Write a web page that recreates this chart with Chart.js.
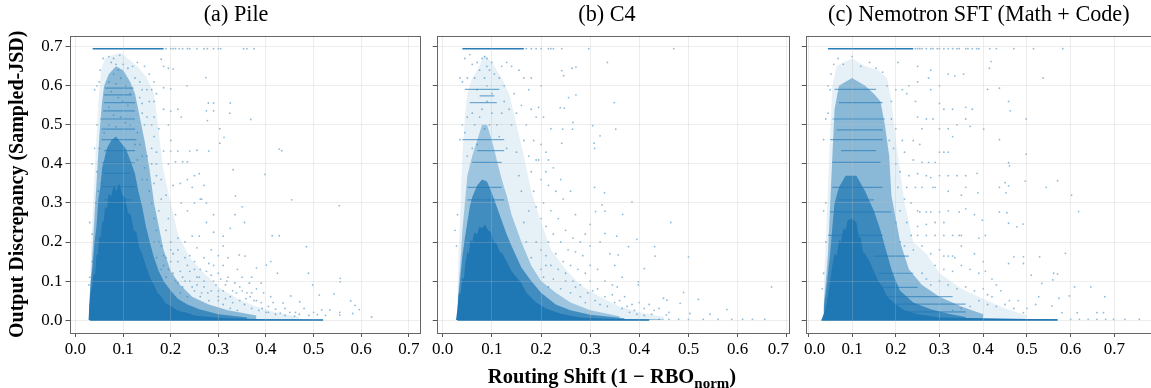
<!DOCTYPE html>
<html>
<head>
<meta charset="utf-8">
<script src="https://cdn.jsdelivr.net/npm/chart.js@4"></script>
<style>
  html, body { margin: 0; background: #fff; overflow: hidden; }
  canvas { position: absolute; top: 0; }
  #xlabel { position: absolute; left: 412px; width: 400px; top: 366px; text-align: center;
    font: bold 20.5px "Liberation Serif"; color: #000; white-space: nowrap; line-height: 20px; }
  #xlabel sub { font-size: 15px; line-height: 0; }
</style>
</head>
<body>
<canvas id="pile" style="left:0"></canvas>
<canvas id="c4" style="left:430px"></canvas>
<canvas id="nemo" style="left:785px"></canvas>
<div id="xlabel">Routing Shift (1 − RBO<sub>norm</sub>)</div>
<script>
const xTicks = [0, 0.1, 0.2, 0.3, 0.4, 0.5, 0.6, 0.7];
const yTicks = [0, 0.1, 0.2, 0.3, 0.4, 0.5, 0.6, 0.7];
const BLUE = '31,119,180';

// (a) Pile: density bands, darkest first
const pileCore = [[.027,0],[.029,.03],[.032,.07],[.035,.085],[.038,.12],[.041,.115],[.044,.165],[.047,.17],[.05,.215],[.053,.21],[.056,.255],[.059,.25],[.062,.29],[.066,.285],[.07,.325],[.075,.315],[.08,.345],[.086,.33],[.092,.35],[.098,.32],[.104,.315],[.11,.275],[.116,.27],[.122,.23],[.128,.225],[.134,.185],[.14,.17],[.146,.145],[.152,.125],[.158,.105],[.165,.09],[.172,.07],[.18,.06],[.19,.042],[.2,.037],[.215,.024],[.23,.02],[.25,.012],[.28,.008],[.32,.005],[.4,.002],[.52,.001]];
const pileMid = [[.028,.03],[.032,.1],[.036,.14],[.04,.2],[.044,.24],[.048,.31],[.052,.34],[.056,.39],[.06,.41],[.066,.44],[.075,.46],[.085,.47],[.095,.455],[.105,.44],[.115,.41],[.125,.375],[.132,.33],[.14,.29],[.148,.24],[.156,.2],[.165,.16],[.175,.125],[.185,.1],[.2,.075],[.215,.055],[.235,.04],[.26,.028],[.3,.015],[.36,.007]];
const pileUpper = [[.03,.05],[.034,.14],[.04,.27],[.045,.37],[.05,.47],[.055,.55],[.06,.6],[.07,.63],[.085,.65],[.1,.64],[.115,.61],[.125,.58],[.135,.52],[.145,.46],[.155,.39],[.165,.3],[.175,.24],[.185,.18],[.2,.125],[.22,.09],[.245,.06],[.28,.04],[.32,.025],[.38,.012]];
const pileOuter = [[.03,.1],[.036,.27],[.042,.42],[.048,.56],[.054,.64],[.062,.67],[.08,.68],[.095,.685],[.115,.665],[.13,.65],[.15,.62],[.165,.58],[.175,.48],[.185,.38],[.2,.3],[.215,.22],[.24,.16],[.27,.12],[.3,.085],[.34,.055],[.38,.035],[.42,.02],[.47,.008]];
const pileStreaks = [[.062,.594],[.122,.594],[.07,null],[.06,.577],[.118,.577],[.07,null],[.06,.557],[.125,.557],[.07,null],[.058,.536],[.125,.536],[.07,null],[.052,.515],[.125,.515],[.07,null],[.055,.489],[.125,.489],[.07,null],[.055,.462],[.128,.462],[.07,null],[.06,.434],[.125,.434],[.07,null],[.055,.403],[.125,.403],[.07,null],[.06,.376],[.115,.376],[.07,null],[.055,.342],[.125,.342],[.07,null],[.06,.308],[.12,.308]];
const pileEdges = [[.036,.695],[.185,.695],[.07,null],[.03,0],[.52,0]];
const pileDots = [
[.19,.695],[.2,.695],[.205,.695],[.21,.695],[.218,.695],[.225,.695],[.235,.695],[.24,.695],[.255,.695],[.27,.695],[.277,.695],[.29,.695],[.3,.695],[.305,.695],[.353,.695],[.36,.695],[.375,.695],
[.274,.621],[.205,.643],[.234,.60],[.325,.556],[.324,.53],[.368,.514],[.428,.438],[.433,.434],[.398,.373],[.454,.308],[.554,.293],[.413,.216],[.428,.216],[.485,.188],[.336,.318],[.331,.385],[.303,.453],[.303,.49],[.312,.468],[.277,.511],[.275,.536],[.29,.536],[.279,.556],[.29,.556],
[.555,.013],[.556,.107],[.556,.098],[.498,.09],[.489,.12],[.512,.064],[.543,.067],[.578,.049],[.596,.027],[.587,.038],[.534,.026],[.517,.026],[.471,.047],[.452,.062],[.436,.044],[.424,.12],[.41,.15],[.401,.141],[.38,.134],[.356,.164],[.344,.167],[.555,.02],[.582,.017],[.622,.008],[.48,.03],[.5,.02],[.462,.02],[.44,.03],[.42,.028],[.405,.035],[.39,.045],[.375,.05],[.36,.07],[.345,.085],[.33,.075],[.315,.09],[.3,.12],[.305,.105],[.29,.14],[.275,.125],[.26,.11],[.25,.13],[.235,.14],[.225,.11],[.215,.15],[.205,.17],[.24,.165],[.255,.185],[.27,.16],[.285,.18],[.3,.165],[.31,.19],[.32,.16],[.35,.11],[.365,.095],[.38,.08],[.395,.07],[.41,.06],[.37,.07],[.345,.05],[.33,.045],[.315,.055],[.3,.06],[.285,.075],[.27,.085],[.255,.09],[.24,.1],[.225,.085],[.29,.1],[.32,.11],[.335,.095],[.355,.04],[.37,.03],[.385,.025],[.4,.02],[.42,.015],[.44,.012],[.46,.01],[.3,.075],[.31,.04],[.325,.03],[.34,.025],[.28,.05],[.265,.07],[.25,.075],[.235,.06],[.22,.07],[.21,.1],[.195,.13],[.185,.165],[.2,.2],[.215,.21],[.23,.2],[.245,.215],[.26,.215],[.275,.25],[.29,.225],[.31,.215],[.325,.235],[.335,.27],[.355,.25],[.35,.29],[.29,.27],[.275,.3],[.262,.31],[.25,.3],[.235,.28],[.222,.3],[.21,.27],[.195,.26],[.19,.32],[.205,.345],[.22,.35],[.235,.36],[.225,.405],[.21,.405],[.235,.405],[.25,.37],[.245,.34],[.265,.31],[.27,.345],[.26,.375],[.195,.4],[.18,.36],[.17,.43],[.185,.433],[.2,.433],[.215,.433],[.24,.433],[.255,.435],[.28,.433],[.2,.46],[.195,.5],[.2,.535],[.215,.54],[.222,.52],[.185,.54],[.175,.49],[.165,.52],[.155,.56],[.17,.58],[.185,.595],[.2,.592],[.165,.61],[.185,.65],[.195,.645],[.18,.668],[.155,.63],[.145,.65],[.13,.66],
[.04,.59],[.045,.6],[.052,.64],[.05,.61],[.058,.67],[.07,.675],[.08,.67],[.093,.678],[.1,.655],[.11,.645],[.12,.65],[.135,.61],[.14,.59],[.15,.59],[.16,.59],[.165,.56],[.14,.555],[.15,.52],[.16,.5],[.165,.47],[.16,.44],[.17,.40],[.18,.31],[.175,.28],[.19,.23],[.2,.18],[.175,.2],[.185,.14],[.045,.5],[.04,.44],[.035,.40],[.045,.38],[.03,.25],[.035,.22],[.035,.15],[.03,.11],[.028,.09],
[.075,.66],[.085,.655],[.09,.64],[.08,.63],[.095,.62],[.07,.61],[.105,.6],[.085,.605],[.115,.58],[.075,.585],[.09,.57],[.1,.56],[.11,.55],[.07,.545],[.08,.525],[.095,.52],[.105,.505],[.115,.5],[.07,.5],[.085,.495],[.13,.48],[.135,.45],[.14,.42],[.145,.39],[.15,.36],[.155,.33],[.16,.3],[.165,.26],[.17,.23],[.18,.19],[.19,.16],[.14,.36],[.13,.41],[.125,.45],[.06,.48],[.065,.42],[.05,.44],[.055,.35],[.048,.33],[.043,.3],
[.205,.12],[.215,.095],[.22,.125],[.23,.1],[.24,.125],[.245,.085],[.255,.11],[.262,.06],[.27,.1],[.278,.07],[.285,.115],[.295,.09],[.3,.05],[.31,.075],[.318,.1],[.325,.06],[.338,.07],[.35,.075],[.358,.055],[.367,.06],[.38,.05],[.392,.03],[.405,.02],[.415,.045],[.43,.018],[.45,.02],[.47,.015],[.49,.012],[.508,.014],[.525,.012],[.25,.15],[.262,.13],[.28,.145],[.31,.14],[.34,.13],[.37,.11],[.39,.095],[.23,.16],[.215,.18],[.2,.15],[.19,.11],[.18,.13],[.17,.16],[.165,.2],[.165,.35],[.17,.37],[.16,.4],[.15,.42],[.145,.5],[.14,.53],[.135,.57],[.125,.62]
];

// (b) C4
const c4Core = [[.027,0],[.03,.03],[.033,.07],[.036,.065],[.04,.11],[.043,.105],[.046,.145],[.05,.175],[.053,.17],[.056,.205],[.06,.2],[.064,.225],[.07,.22],[.075,.24],[.08,.235],[.086,.245],[.092,.23],[.098,.225],[.104,.2],[.11,.195],[.116,.175],[.122,.17],[.13,.15],[.14,.125],[.15,.11],[.16,.095],[.17,.07],[.19,.045],[.21,.03],[.24,.016],[.28,.007],[.35,.003],[.45,.001]];
const c4Mid = [[.03,.03],[.035,.1],[.04,.165],[.045,.21],[.05,.25],[.055,.29],[.06,.315],[.07,.345],[.08,.36],[.09,.355],[.1,.325],[.11,.29],[.12,.255],[.13,.22],[.14,.19],[.16,.135],[.18,.1],[.2,.07],[.23,.04],[.26,.025],[.3,.014],[.37,.005]];
const c4Upper = [[.03,.05],[.035,.13],[.04,.23],[.045,.3],[.05,.37],[.06,.42],[.07,.46],[.08,.5],[.09,.5],[.1,.46],[.11,.41],[.12,.36],[.13,.32],[.14,.27],[.16,.2],[.18,.14],[.2,.1],[.23,.07],[.26,.045],[.3,.025],[.36,.01]];
const c4Outer = [[.03,.1],[.035,.25],[.04,.42],[.045,.52],[.05,.58],[.06,.62],[.07,.64],[.085,.68],[.1,.66],[.12,.62],[.135,.58],[.15,.5],[.165,.42],[.18,.33],[.2,.25],[.22,.18],[.25,.13],[.28,.09],[.32,.06],[.36,.035],[.4,.02],[.45,.008]];
const c4Streaks = [[.045,.591],[.115,.591],[.07,null],[.075,.574],[.105,.574],[.07,null],[.055,.557],[.11,.557],[.07,null],[.04,.462],[.125,.462],[.07,null],[.07,.434],[.125,.434],[.07,null],[.06,.404],[.12,.404],[.07,null],[.05,.34],[.12,.34],[.07,null],[.05,.308],[.125,.308]];
const c4Edges = [[.04,.695],[.165,.695],[.07,null],[.03,0],[.42,0]];
const c4Dots = [
[.17,.695],[.18,.695],[.19,.695],[.2,.695],[.215,.695],[.22,.695],[.225,.695],[.242,.695],[.297,.695],[.47,.695],
[.335,.66],[.349,.557],[.352,.489],[.305,.498],[.242,.639],[.263,.645],[.271,.648],[.246,.626],[.256,.57],[.271,.577],[.239,.544],[.247,.543],[.265,.506],[.264,.489],[.244,.489],[.32,.472],[.308,.453],[.309,.44],[.242,.453],[.385,.303],[.309,.34],[.329,.326],[.324,.295],[.33,.279],[.311,.278],[.366,.271],[.464,.25],[.3,.245],[.354,.215],[.395,.207],[.33,.222],[.431,.188],[.432,.164],[.378,.188],[.357,.167],[.5,.162],[.41,.132],[.398,.098],[.398,.09],[.49,.071],[.52,.053],[.669,.085],[.449,.056],[.456,.051],[.483,.043],[.544,.015],[.578,.027],[.503,.017],[.455,.013],[.588,.002],[.61,.002],[.63,.002],[.655,.002],[.56,.002],[.53,.002],[.5,.002],[.48,.002],[.46,.002],[.44,.002],
[.37,.06],[.385,.04],[.4,.045],[.41,.03],[.42,.04],[.43,.025],[.39,.025],[.375,.035],[.36,.05],[.345,.065],[.33,.06],[.315,.08],[.3,.1],[.31,.05],[.295,.07],[.28,.09],[.265,.1],[.25,.12],[.235,.13],[.22,.14],[.21,.165],[.2,.18],[.19,.2],[.215,.2],[.23,.17],[.245,.15],[.26,.14],[.275,.13],[.29,.12],[.3,.14],[.315,.13],[.33,.1],[.345,.09],[.355,.085],[.365,.11],[.285,.165],[.27,.175],[.255,.18],[.24,.2],[.225,.22],[.21,.24],[.2,.26],[.19,.29],[.205,.3],[.22,.28],[.235,.26],[.25,.23],[.265,.21],[.28,.2],[.3,.19],[.32,.2],[.34,.17],[.35,.14],[.29,.22],[.27,.27],[.26,.33],[.245,.31],[.23,.33],[.215,.345],[.2,.36],[.185,.33],[.18,.38],[.195,.41],[.21,.38],[.225,.39],[.24,.36],[.215,.41],[.21,.43],[.2,.45],[.185,.46],[.19,.41],[.175,.42],[.165,.46],[.17,.5],[.19,.52],[.205,.52],[.22,.49],[.18,.54],[.195,.545],[.175,.59],[.18,.62],[.2,.6],[.165,.62],[.155,.64],[.14,.65],[.13,.66],[.12,.65],[.145,.58],[.15,.53],[.16,.55],[.135,.54],[.125,.6],[.14,.5],
[.045,.67],[.055,.68],[.06,.655],[.07,.66],[.075,.64],[.05,.62],[.04,.61],[.035,.62],[.065,.62],[.08,.67],[.085,.675],[.09,.67],[.09,.65],[.095,.64],[.085,.62],[.1,.66],[.105,.63],[.115,.62],[.06,.53],[.05,.52],[.04,.5],[.045,.48],[.065,.5],[.075,.52],[.08,.54],[.09,.56],[.1,.53],[.11,.5],[.115,.47],[.095,.5],[.085,.49],[.07,.45],[.06,.44],[.05,.42],[.035,.462],[.03,.27],[.025,.23],[.028,.19],
[.205,.11],[.215,.085],[.225,.105],[.24,.08],[.25,.1],[.26,.07],[.27,.085],[.28,.06],[.29,.045],[.305,.075],[.32,.04],[.335,.035],[.35,.045],[.365,.03],[.38,.02],[.395,.015],[.41,.012],[.425,.015],[.44,.03],[.46,.02],[.2,.13],[.21,.14],[.18,.16],[.17,.2],[.165,.25],[.175,.28],[.16,.33],[.155,.37],[.15,.43],[.13,.44],[.12,.53],[.125,.56],[.07,.59],[.09,.6],[.1,.58]
];

// (c) Nemotron SFT
const nemoCore = [[.03,0],[.04,.03],[.045,.065],[.05,.1],[.055,.14],[.06,.17],[.065,.165],[.07,.205],[.075,.2],[.08,.235],[.085,.23],[.09,.255],[.1,.26],[.11,.25],[.115,.215],[.12,.21],[.125,.175],[.13,.17],[.14,.15],[.15,.125],[.16,.1],[.17,.085],[.18,.06],[.19,.05],[.2,.04],[.22,.025],[.25,.015],[.3,.007],[.5,.003],[.57,.002]];
const nemoMid = [[.035,.03],[.04,.07],[.05,.17],[.055,.24],[.06,.3],[.07,.34],[.085,.37],[.11,.37],[.13,.33],[.15,.28],[.165,.23],[.175,.19],[.19,.13],[.2,.1],[.21,.075],[.24,.045],[.28,.028],[.32,.016],[.36,.008]];
const nemoUpper = [[.035,.04],[.04,.1],[.045,.17],[.05,.3],[.055,.42],[.06,.54],[.07,.6],[.1,.62],[.13,.6],[.15,.58],[.165,.56],[.175,.5],[.185,.42],[.19,.32],[.2,.26],[.21,.2],[.23,.13],[.26,.09],[.3,.06],[.35,.035],[.4,.015]];
const nemoOuter = [[.035,.09],[.04,.2],[.045,.34],[.05,.48],[.055,.6],[.065,.65],[.08,.66],[.1,.67],[.13,.65],[.16,.64],[.18,.62],[.19,.56],[.2,.46],[.21,.38],[.22,.3],[.24,.2],[.27,.17],[.3,.12],[.35,.08],[.4,.055],[.45,.03],[.5,.012]];
const nemoStreaks = [[.06,.591],[.155,.591],[.07,null],[.07,.557],[.17,.557],[.07,null],[.055,.515],[.175,.515],[.07,null],[.065,.487],[.17,.487],[.07,null],[.05,.462],[.17,.462],[.07,null],[.075,.434],[.155,.434],[.07,null],[.055,.404],[.165,.404],[.07,null],[.055,.34],[.17,.34],[.07,null],[.07,.308],[.15,.308],[.07,null],[.05,.277],[.19,.277],[.07,null],[.045,.217],[.17,.217],[.07,null],[.15,.164],[.23,.164],[.07,null],[.16,.12],[.24,.12],[.07,null],[.17,.084],[.25,.084],[.07,null],[.18,.06],[.33,.06],[.07,null],[.2,.041],[.36,.041],[.07,null],[.2,.021],[.36,.021]];
const nemoEdges = [[.045,.695],[.24,.695],[.07,null],[.03,0],[.57,0]];
const nemoDots = [
[.245,.695],[.25,.695],[.255,.695],[.26,.695],[.27,.695],[.28,.695],[.285,.695],[.295,.695],[.3,.695],[.31,.695],[.32,.695],[.33,.695],[.34,.695],[.345,.695],[.36,.695],[.365,.695],[.375,.695],[.385,.695],[.39,.695],[.415,.695],[.43,.695],[.47,.695],[.515,.695],[.582,.695],
[.537,.62],[.418,.662],[.414,.645],[.41,.591],[.437,.594],[.458,.56],[.462,.536],[.498,.515],[.401,.489],[.37,.496],[.437,.462],[.498,.425],[.458,.403],[.46,.395],[.496,.356],[.57,.357],[.544,.34],[.602,.32],[.618,.278],[.45,.352],[.437,.34],[.458,.344],[.452,.326],[.386,.376],[.388,.326],[.437,.277],[.454,.275],[.398,.256],[.458,.248],[.491,.246],[.477,.239],[.588,.171],[.492,.162],[.529,.162],[.47,.162],[.458,.145],[.492,.145],[.561,.12],[.57,.118],[.51,.115],[.559,.103],[.534,.094],[.609,.085],[.646,.085],[.678,.06],[.597,.062],[.527,.06],[.573,.056],[.557,.036],[.492,.019],[.66,.019],[.675,.019],[.615,.019],[.58,.019],[.757,.002],[.724,.002],[.698,.002],[.68,.002],[.66,.002],[.64,.002],[.62,.002],[.6,.002],
[.205,.66],[.25,.65],[.28,.64],[.275,.62],[.25,.61],[.23,.6],[.215,.59],[.2,.59],[.225,.58],[.245,.56],[.28,.59],[.3,.6],[.32,.63],[.335,.625],[.355,.63],[.3,.555],[.31,.54],[.33,.54],[.36,.545],[.375,.54],[.27,.515],[.25,.52],[.26,.49],[.285,.515],[.3,.49],[.32,.49],[.33,.47],[.34,.5],[.36,.515],[.24,.46],[.255,.45],[.215,.46],[.22,.43],[.24,.41],[.26,.404],[.275,.404],[.29,.404],[.31,.43],[.3,.43],[.32,.43],[.21,.38],[.23,.37],[.25,.375],[.27,.37],[.28,.365],[.3,.37],[.32,.37],[.34,.37],[.36,.37],[.26,.34],[.245,.34],[.225,.34],[.285,.34],[.29,.34],[.32,.33],[.35,.32],[.36,.34],[.22,.31],[.235,.3],[.25,.28],[.27,.277],[.255,.277],[.28,.277],[.3,.277],[.32,.28],[.345,.277],[.36,.285],[.38,.27],[.31,.25],[.29,.25],[.27,.245],[.25,.24],[.235,.217],[.25,.217],[.27,.217],[.29,.217],[.31,.217],[.33,.217],[.345,.217],[.35,.217],[.39,.21],[.405,.217],[.21,.2],[.22,.19],[.24,.18],[.26,.19],[.28,.17],[.3,.18],[.31,.164],[.32,.164],[.33,.164],[.335,.16],[.35,.19],[.38,.17],[.4,.15],[.29,.14],[.31,.13],[.33,.125],[.35,.14],[.37,.13],[.39,.12],[.405,.125],[.42,.105],[.43,.09],[.26,.12],[.27,.105],[.28,.09],[.3,.1],[.32,.09],[.34,.08],[.36,.085],[.38,.075],[.4,.08],[.41,.065],[.42,.06],[.44,.075],[.46,.05],[.47,.03],[.45,.04],[.43,.035],[.41,.04],[.39,.05],[.37,.035],[.35,.03],[.33,.025],[.5,.03],[.48,.05],[.52,.04],
[.045,.6],[.05,.59],[.04,.515],[.035,.462],[.045,.53],[.052,.63],[.058,.655],[.068,.67],[.08,.655],[.1,.675],[.12,.65],[.14,.66],[.155,.645],[.17,.635],[.18,.6],[.19,.56],[.19,.515],[.2,.49],[.185,.46],[.195,.44],[.2,.4],[.205,.34],[.21,.28],[.225,.25],[.2,.25],[.04,.3],[.035,.28],[.04,.2],[.035,.12],[.032,.08]
];

// last label of (b) and first of (c) sit off their ticks in the picture
const c4Labels = { '0.7': '0.7    ' };
const nemoLabels = { '0.0': '   0.0' };

// axes only give left and bottom, this adds the full box
const frame = {
  id: 'frame',
  afterDraw(chart) {
    const a = chart.chartArea, ctx = chart.ctx;
    ctx.save();
    ctx.strokeStyle = '#666';
    ctx.lineWidth = 1;
    ctx.strokeRect(Math.round(a.left) + .5, Math.round(a.top) + .5, Math.round(a.width), Math.round(a.height));
    ctx.restore();
  }
};

function areaSet(data, alpha) {
  return { data, showLine: true, fill: 'origin', borderWidth: 0, pointRadius: 0, backgroundColor: `rgba(${BLUE},${alpha})` };
}

function makePanel(id, opts) {
  const el = document.getElementById(id);
  el.width = opts.width;
  el.height = 388;
  el.style.width = opts.width + 'px';
  el.style.height = '388px';
  const xLabels = opts.xLabels || {};
  new Chart(el, {
    type: 'scatter',
    data: {
      datasets: [
        { data: opts.dots, pointRadius: 0.9, pointBorderWidth: 0, backgroundColor: `rgba(${BLUE},.5)` },
        { data: opts.edges, showLine: true, borderWidth: 1.6, borderColor: `rgba(${BLUE},.95)`, pointRadius: 0 },
        { data: opts.streaks, showLine: true, borderWidth: 1.2, borderColor: `rgba(${BLUE},.6)`, pointRadius: 0 },
        areaSet(opts.core, 1),
        areaSet(opts.mid, .72),
        areaSet(opts.upper, opts.upperAlpha),
        areaSet(opts.outer, .11)
      ]
    },
    options: {
      responsive: false,
      animation: false,
      layout: { padding: { right: opts.width - opts.right } },
      plugins: {
        legend: { display: false },
        tooltip: { enabled: false },
        title: {
          display: true,
          fullSize: false,
          text: opts.title,
          color: '#000',
          font: { family: 'Liberation Serif', size: 22.2, weight: 'normal' },
          padding: { top: 2, bottom: 7 }
        }
      },
      scales: {
        x: {
          type: 'linear',
          min: opts.xMin,
          max: opts.xMax,
          afterBuildTicks: s => { s.ticks = xTicks.map(v => ({ value: v })); },
          afterFit: s => { s.height = 388 - 333; },
          border: { display: false },
          grid: { color: 'rgba(190,190,190,.28)', tickColor: '#555', tickLength: 4, z: 1 },
          ticks: { maxRotation: 0, autoSkip: false, color: '#000', padding: 2,
            callback: v => xLabels[v.toFixed(1)] || v.toFixed(1),
            font: { family: 'Liberation Serif', size: 17 } }
        },
        y: {
          min: -0.033,
          max: 0.7285,
          afterBuildTicks: s => { s.ticks = yTicks.map(v => ({ value: v })); },
          afterFit: s => { s.width = opts.left; },
          border: { display: false },
          grid: { color: 'rgba(190,190,190,.28)', tickColor: '#555', tickLength: 4, z: 1 },
          title: { display: opts.labels, text: 'Output Discrepancy (Sampled-JSD)', color: '#000',
            font: { family: 'Liberation Serif', size: 20, weight: 'bold' }, padding: 6 },
          ticks: { display: opts.labels, color: '#000', padding: 3, callback: v => v.toFixed(1),
            font: { family: 'Liberation Serif', size: 17 } }
        }
      }
    },
    plugins: [frame]
  });
}

makePanel('pile', { width: 430, left: 69.5, right: 419.3, xMin: -0.0126, xMax: 0.722, title: '(a) Pile   ', labels: true, upperAlpha: .46,
  core: pileCore, mid: pileMid, upper: pileUpper, outer: pileOuter, streaks: pileStreaks, edges: pileEdges, dots: pileDots });
makePanel('c4', { width: 400, left: 6.3, right: 358.3, xMin: -0.0122, xMax: 0.703, title: '(b) C4  ', labels: false, upperAlpha: .36, xLabels: c4Labels,
  core: c4Core, mid: c4Mid, upper: c4Upper, outer: c4Outer, streaks: c4Streaks, edges: c4Edges, dots: c4Dots });
makePanel('nemo', { width: 375, left: 20.7, right: 367, xMin: -0.006, xMax: 0.786, title: '(c) Nemotron SFT (Math + Code)', labels: false, upperAlpha: .46, xLabels: nemoLabels,
  core: nemoCore, mid: nemoMid, upper: nemoUpper, outer: nemoOuter, streaks: nemoStreaks, edges: nemoEdges, dots: nemoDots });
</script>
</body>
</html>
